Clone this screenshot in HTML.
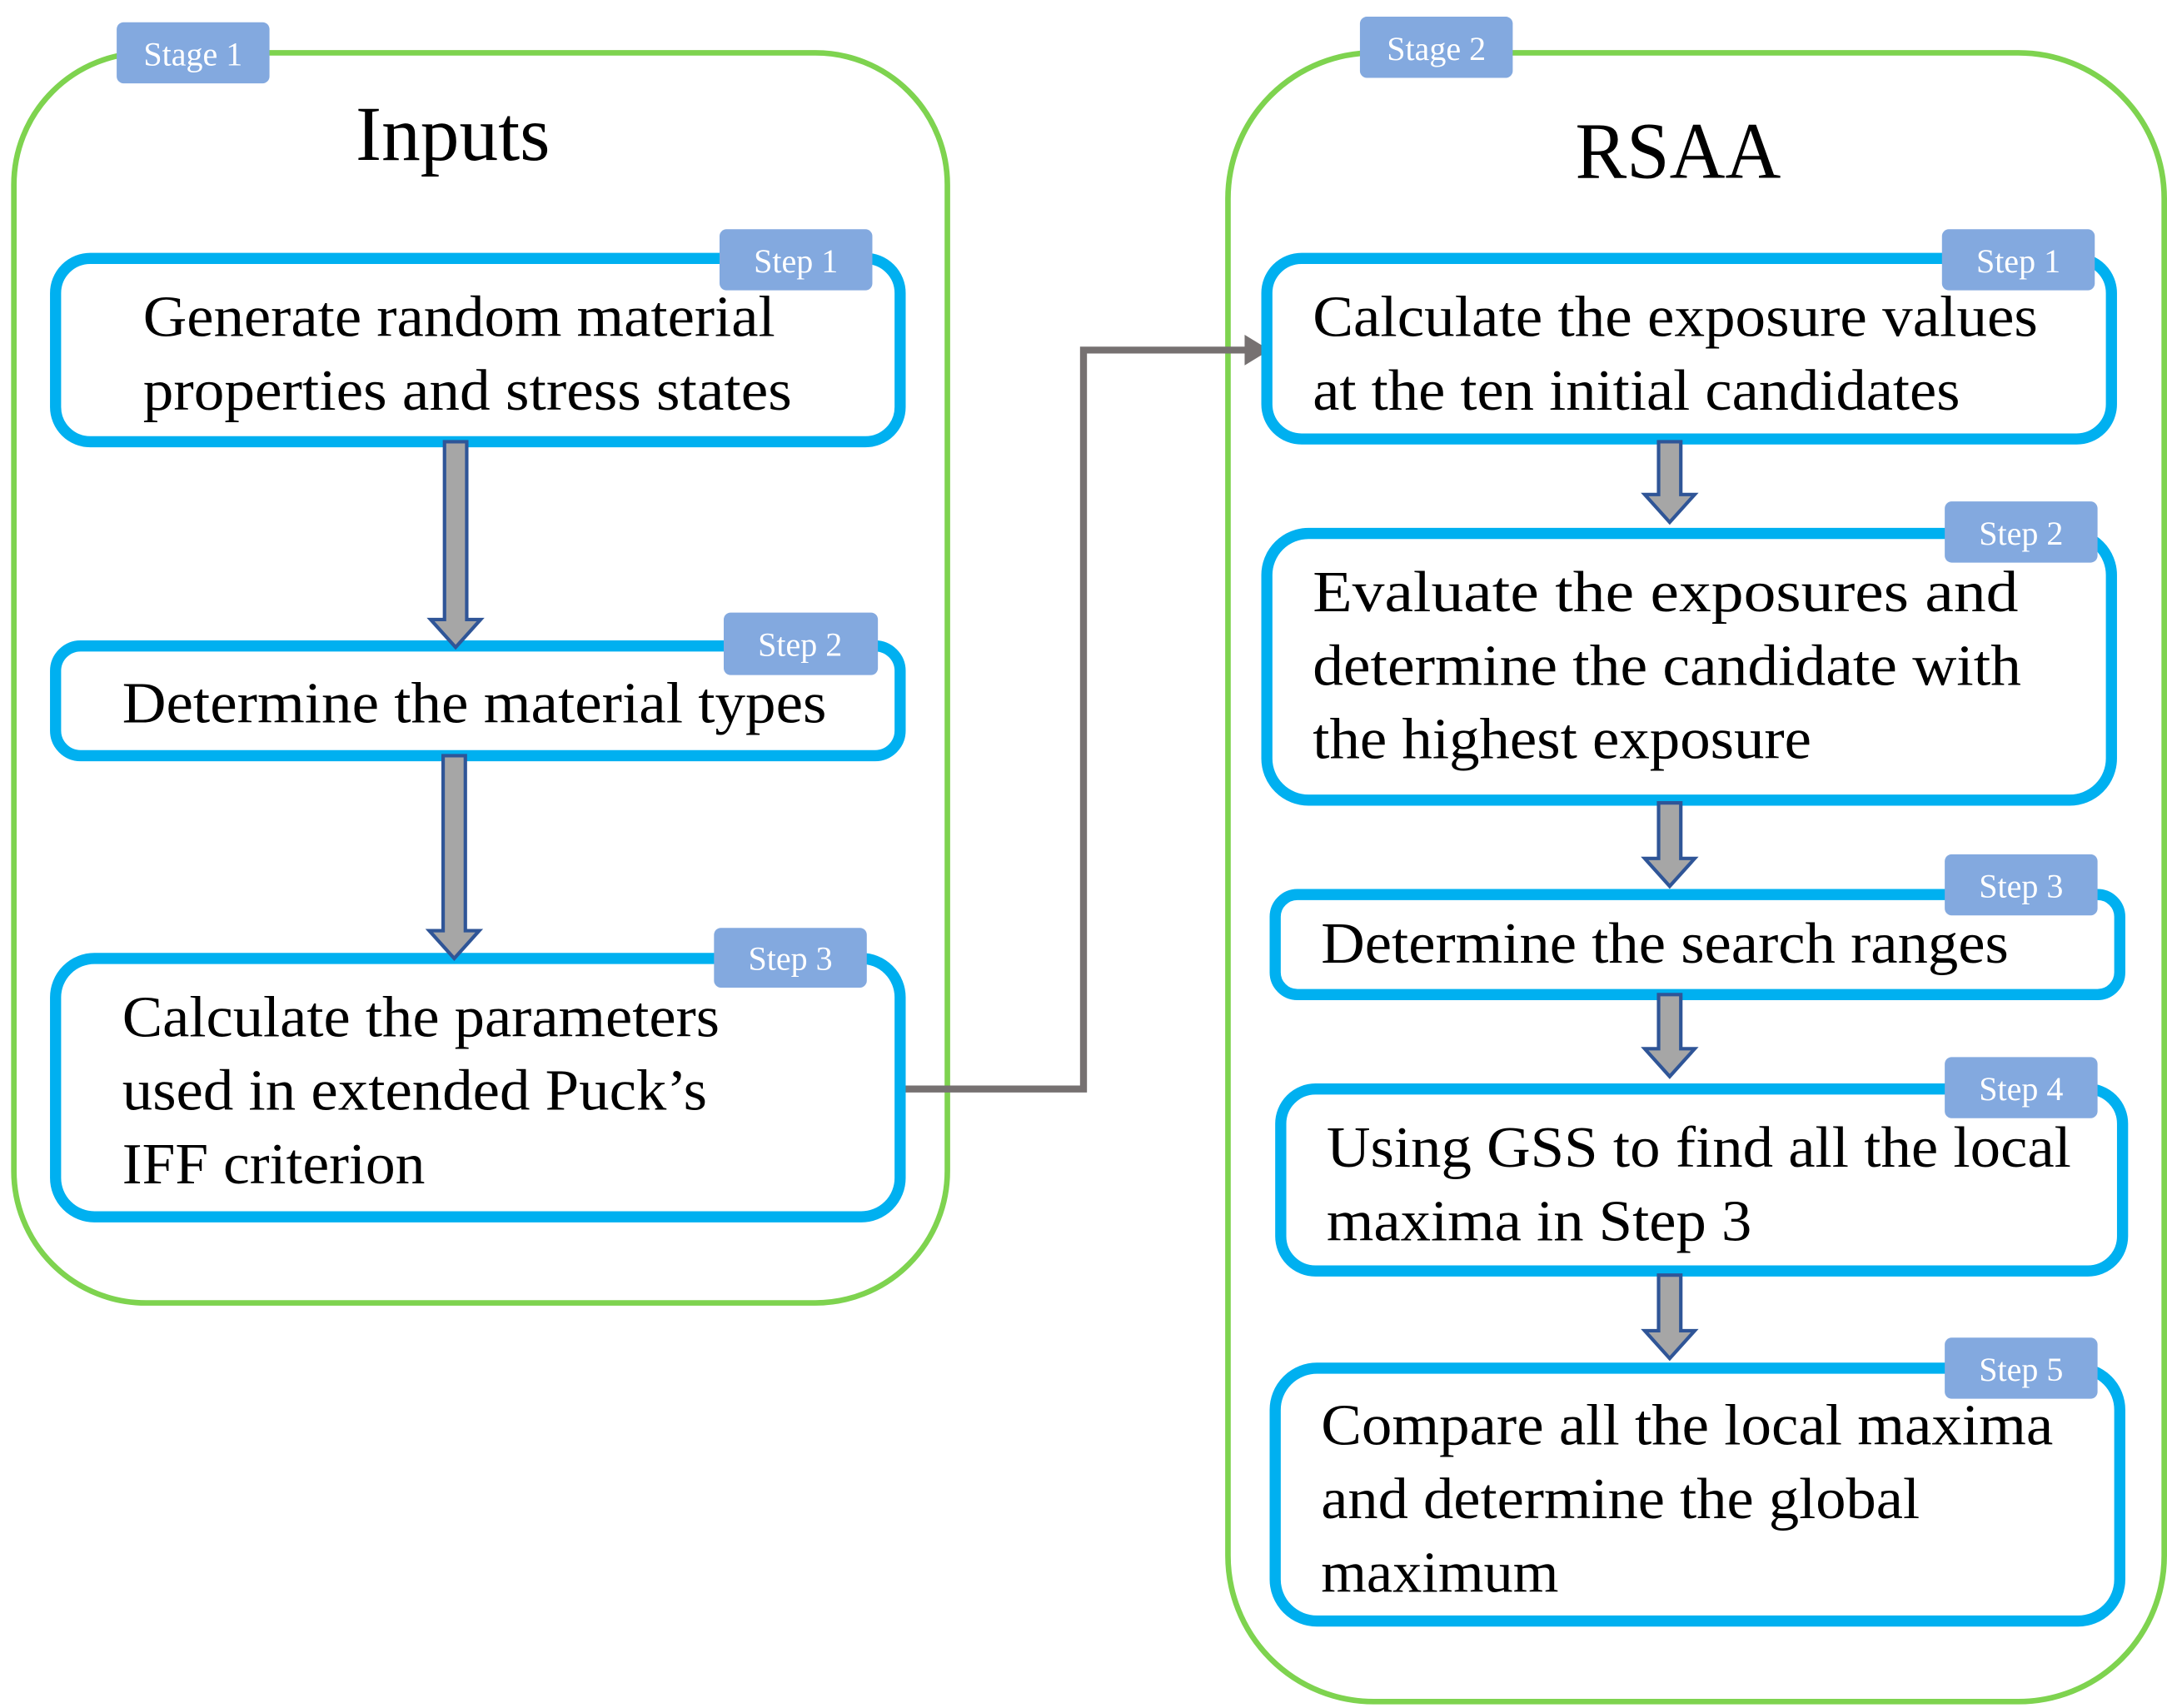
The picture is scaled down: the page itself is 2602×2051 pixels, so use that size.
<!DOCTYPE html>
<html><head><meta charset="utf-8"><style>html,body{margin:0;padding:0;background:#fff}svg{display:block}</style></head>
<body>
<svg xmlns="http://www.w3.org/2000/svg" width="2602" height="2051" viewBox="0 0 1560 1229.6">
<g font-family="'Liberation Serif', serif">
<rect x="10" y="38" width="672" height="900" rx="95" fill="none" stroke="#7ed34f" stroke-width="4"/>
<rect x="884" y="38" width="674" height="1187" rx="105" fill="none" stroke="#7ed34f" stroke-width="4"/>
<rect x="84" y="16" width="110" height="44" rx="5" fill="#83a9df"/>
<text x="139" y="47" font-size="24" fill="#fff" text-anchor="middle">Stage 1</text>
<rect x="979" y="12" width="110" height="44" rx="5" fill="#83a9df"/>
<text x="1034" y="43" font-size="24" fill="#fff" text-anchor="middle">Stage 2</text>
<text x="256" y="115" font-size="56" textLength="140" lengthAdjust="spacingAndGlyphs">Inputs</text>
<text x="1134" y="128" font-size="58" textLength="148" lengthAdjust="spacingAndGlyphs">RSAA</text>

<polyline points="648,784 780,784 780,252 898,252" fill="none" stroke="#767171" stroke-width="5"/>
<path d="M896,241 L914,252 L896,263 Z" fill="#767171"/>

<g fill="#fff" stroke="#00b0f0" stroke-width="8">
<rect x="40" y="186" width="608" height="132" rx="25"/>
<rect x="40" y="465" width="608" height="79" rx="18"/>
<rect x="40" y="690" width="608" height="186" rx="28"/>
<rect x="912" y="186" width="608" height="130" rx="25"/>
<rect x="912" y="384" width="608" height="192" rx="30"/>
<rect x="918" y="644" width="608" height="72" rx="16"/>
<rect x="922" y="784" width="606" height="131" rx="25"/>
<rect x="918" y="985" width="608" height="182" rx="30"/>
</g>

<g fill="#a6a6a6" stroke="#2f5597" stroke-width="2.5">
<path d="M320,318 H336 V446 H346 L328,466 L310,446 H320 Z"/>
<path d="M319,544 H335 V670 H345 L327,690 L309,670 H319 Z"/>
<path d="M1194,318 H1210 V356 H1220 L1202,376 L1184,356 H1194 Z"/>
<path d="M1194,578 H1210 V618 H1220 L1202,638 L1184,618 H1194 Z"/>
<path d="M1194,716 H1210 V755 H1220 L1202,775 L1184,755 H1194 Z"/>
<path d="M1194,918 H1210 V958 H1220 L1202,978 L1184,958 H1194 Z"/>
</g>

<g fill="#83a9df">
<rect x="518" y="165" width="110" height="44" rx="5"/>
<rect x="521" y="441" width="111" height="45" rx="5"/>
<rect x="514" y="668" width="110" height="43" rx="5"/>
<rect x="1398" y="165" width="110" height="44" rx="5"/>
<rect x="1400" y="361" width="110" height="44" rx="5"/>
<rect x="1400" y="615" width="110" height="44" rx="5"/>
<rect x="1400" y="761" width="110" height="44" rx="5"/>
<rect x="1400" y="963" width="110" height="44" rx="5"/>
</g>
<g font-size="24" fill="#fff" text-anchor="middle">
<text x="573" y="196">Step 1</text>
<text x="576" y="472">Step 2</text>
<text x="569" y="698">Step 3</text>
<text x="1453" y="196">Step 1</text>
<text x="1455" y="392">Step 2</text>
<text x="1455" y="646">Step 3</text>
<text x="1455" y="792">Step 4</text>
<text x="1455" y="994">Step 5</text>
</g>

<g font-size="42" fill="#000" lengthAdjust="spacingAndGlyphs">
<text x="103" y="242" textLength="455" lengthAdjust="spacingAndGlyphs">Generate random material</text>
<text x="103" y="295" textLength="467" lengthAdjust="spacingAndGlyphs">properties and stress states</text>
<text x="88" y="520" textLength="507" lengthAdjust="spacingAndGlyphs">Determine the material types</text>
<text x="88" y="746" textLength="430" lengthAdjust="spacingAndGlyphs">Calculate the parameters</text>
<text x="88" y="799" textLength="421" lengthAdjust="spacingAndGlyphs">used in extended Puck’s</text>
<text x="88" y="852" textLength="218" lengthAdjust="spacingAndGlyphs">IFF criterion</text>
<text x="945" y="242" textLength="522" lengthAdjust="spacingAndGlyphs">Calculate the exposure values</text>
<text x="945" y="295" textLength="466" lengthAdjust="spacingAndGlyphs">at the ten initial candidates</text>
<text x="945" y="440" textLength="508" lengthAdjust="spacingAndGlyphs">Evaluate the exposures and</text>
<text x="945" y="493" textLength="510" lengthAdjust="spacingAndGlyphs">determine the candidate with</text>
<text x="945" y="546" textLength="359" lengthAdjust="spacingAndGlyphs">the highest exposure</text>
<text x="951" y="693" textLength="495" lengthAdjust="spacingAndGlyphs">Determine the search ranges</text>
<text x="955" y="840" textLength="536" lengthAdjust="spacingAndGlyphs">Using GSS to find all the local</text>
<text x="955" y="893" textLength="306" lengthAdjust="spacingAndGlyphs">maxima in Step 3</text>
<text x="951" y="1040" textLength="527" lengthAdjust="spacingAndGlyphs">Compare all the local maxima</text>
<text x="951" y="1093" textLength="431" lengthAdjust="spacingAndGlyphs">and determine the global</text>
<text x="951" y="1146" textLength="171" lengthAdjust="spacingAndGlyphs">maximum</text>
</g>
</g>
</svg>
</body></html>
